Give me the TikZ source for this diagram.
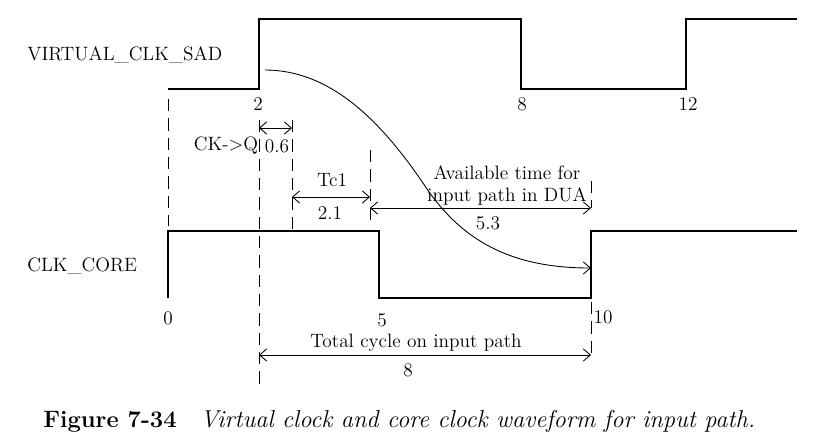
\documentclass[tikz,border=0pt]{standalone}
\usepackage{fontspec}
\usetikzlibrary{arrows.meta, positioning}
\begin{document}
\begin{tikzpicture}[
    x=0.02cm, y=-0.02cm,
    wave_line/.style={line width=1.6pt, line join=miter},
    guide_line/.style={line width=0.5pt, dash pattern=on 7pt off 4pt},
    dim_arrow/.style={line width=0.5pt, {Straight Barb[length=4pt, width=7pt]}-{Straight Barb[length=4pt, width=7pt]}},
    lbl/.style={font=\fontsize{11}{12.5}\selectfont, inner sep=0pt},
    cap_text/.style={font=\fontsize{13.5}{16}\selectfont, inner sep=0pt}
]
    \useasboundingbox (0,0) rectangle (839,441);

    % Signal names
    \node[lbl, anchor=west] (sad_name) at (27,55) {VIRTUAL\_CLK\_SAD};
    \node[lbl, anchor=west] (core_name) at (27,266) {CLK\_CORE};

    % Waveforms
    \draw[wave_line] (168,89) -- (259,89) -- (259,19) -- (521,19) -- (521,89)
        -- (686,89) -- (686,19) -- (797,19); % VIRTUAL_CLK_SAD
    \draw[wave_line] (168,298) -- (168,231) -- (379,231) -- (379,298)
        -- (591,298) -- (591,231) -- (797,231); % CLK_CORE

    % Edge times
    \node[lbl] (t2) at (258,104) {2};
    \node[lbl] (t8) at (522,104) {8};
    \node[lbl] (t12) at (688,104) {12};
    \node[lbl] (t0) at (168,318) {0};
    \node[lbl] (t5) at (382,320) {5};
    \node[lbl] (t10) at (603,317) {10};

    % Guides
    \draw[guide_line] (168,99) -- (168,226);
    \draw[guide_line] (259,120) -- (259,385);
    \draw[guide_line] (292,120) -- (292,229);
    \draw[guide_line] (370,150) -- (370,222);
    \draw[guide_line] (591,181) -- (591,208);
    \draw[guide_line] (591,302) -- (591,358);

    % Measure points
    \coordinate (ckq_a) at (259,128);
    \coordinate (ckq_b) at (292,128);
    \coordinate (tc_a) at (292,197);
    \coordinate (tc_b) at (370,197);
    \coordinate (av_a) at (370,208);
    \coordinate (av_b) at (591,208);
    \coordinate (tot_a) at (259,355);
    \coordinate (tot_b) at (591,355);
    \coordinate (q_start) at (265,70);
    \coordinate (q_mid) at (423,183);
    \coordinate (q_end) at (591,268);

    % Data launched by the virtual clock
    \draw[line width=0.5pt, -{Straight Barb[length=4pt, width=7pt]}] (q_start)
        .. controls (330,70) and (380,120) .. (q_mid)
        .. controls (460,240) and (510,268) .. (q_end);

    % Dimensions
    \draw[dim_arrow] (ckq_a) -- (ckq_b);
    \node[lbl] (ckq_lbl) at (226,146) {CK->Q};
    \node[lbl] (ckq_val) at (277,146) {0.6};

    \draw[dim_arrow] (tc_a) -- (tc_b);
    \node[lbl] (tc_lbl) at (332,180) {Tc1};
    \node[lbl] (tc_val) at (330,213) {2.1};

    \draw[dim_arrow] (av_a) -- (av_b);
    \node[lbl, align=center] (av_lbl) at (507,185) {Available time for\\input path in DUA};
    \node[lbl] (av_val) at (488,223) {5.3};

    \draw[dim_arrow] (tot_a) -- (tot_b);
    \node[lbl] (tot_lbl) at (416,343) {Total cycle on input path};
    \node[lbl] (tot_val) at (408,370) {8};

    % Caption
    \node[cap_text, anchor=base west] (fig_num) at (43,427) {\bfseries Figure 7-34};
    \node[cap_text, anchor=base west, font=\fontsize{13.9}{16}\selectfont] (fig_text) at (200,427)
        {\itshape Virtual clock and core clock waveform for input path.};
\end{tikzpicture}
\end{document}
